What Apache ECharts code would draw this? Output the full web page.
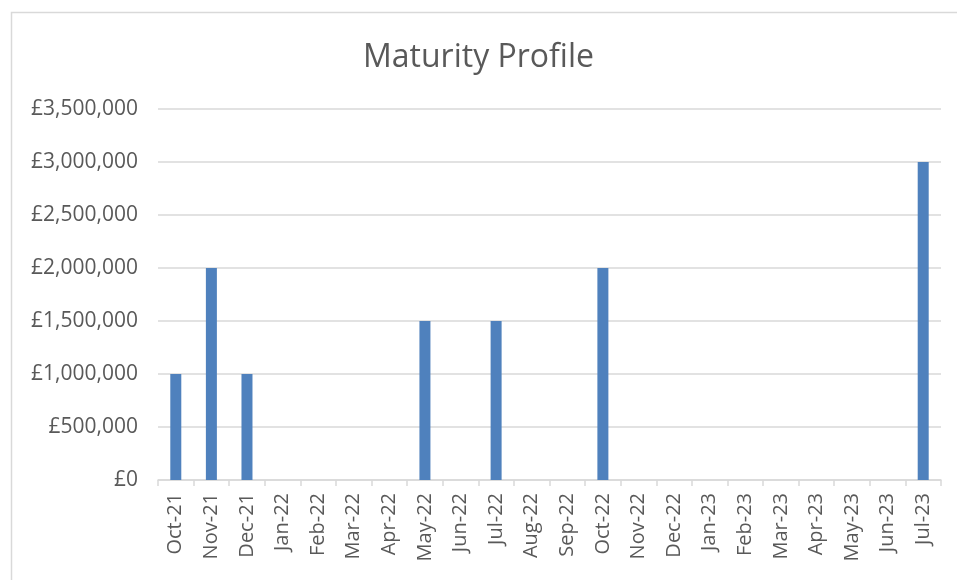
<!DOCTYPE html>
<html>
<head>
<meta charset="utf-8">
<script src="https://cdn.jsdelivr.net/npm/echarts@6/dist/echarts.min.js"></script>
<style>html,body{margin:0;padding:0;background:#fff;}#c{width:957px;height:580px;}</style>
</head>
<body>
<div id="c"></div>
<script>
var categories = ['Oct-21','Nov-21','Dec-21','Jan-22','Feb-22','Mar-22','Apr-22','May-22','Jun-22','Jul-22','Aug-22','Sep-22','Oct-22','Nov-22','Dec-22','Jan-23','Feb-23','Mar-23','Apr-23','May-23','Jun-23','Jul-23'];
var values = [1000000,2000000,1000000,0,0,0,0,1500000,0,1500000,0,0,2000000,0,0,0,0,0,0,0,0,3000000];
var chart = echarts.init(document.getElementById('c'));
chart.setOption({
  animation:false,
  backgroundColor:'#fff',
  title:{text:'Maturity Profile',left:'center',top:37,textStyle:{fontFamily:'Open Sans',fontSize:32,fontWeight:'normal',color:'#595959'}},
  graphic:[{type:'rect',left:9,top:10,shape:{width:980,height:600},style:{fill:'none',stroke:'#d9d9d9',lineWidth:1.5},silent:true}],
  grid:{left:158,right:16,top:109,bottom:100},
  xAxis:{type:'category',data:categories,
    axisLine:{lineStyle:{color:'#d9d9d9',width:1.5}},
    axisTick:{show:true,length:6,lineStyle:{color:'#d9d9d9',width:1.5}},
    axisLabel:{rotate:90,interval:0,fontFamily:'Open Sans',fontSize:20,color:'#595959',margin:13}},
  yAxis:{type:'value',min:0,max:3500000,interval:500000,
    axisLine:{show:false},axisTick:{show:false},
    splitLine:{lineStyle:{color:'#d9d9d9',width:1.5}},
    axisLabel:{fontFamily:'Open Sans',fontSize:21,color:'#595959',margin:20,
      formatter:function(v){return '£'+v.toLocaleString('en-GB');}}},
  series:[{type:'bar',data:values,barWidth:11,itemStyle:{color:'#4f81bd'}}]
});
</script>
</body>
</html>
